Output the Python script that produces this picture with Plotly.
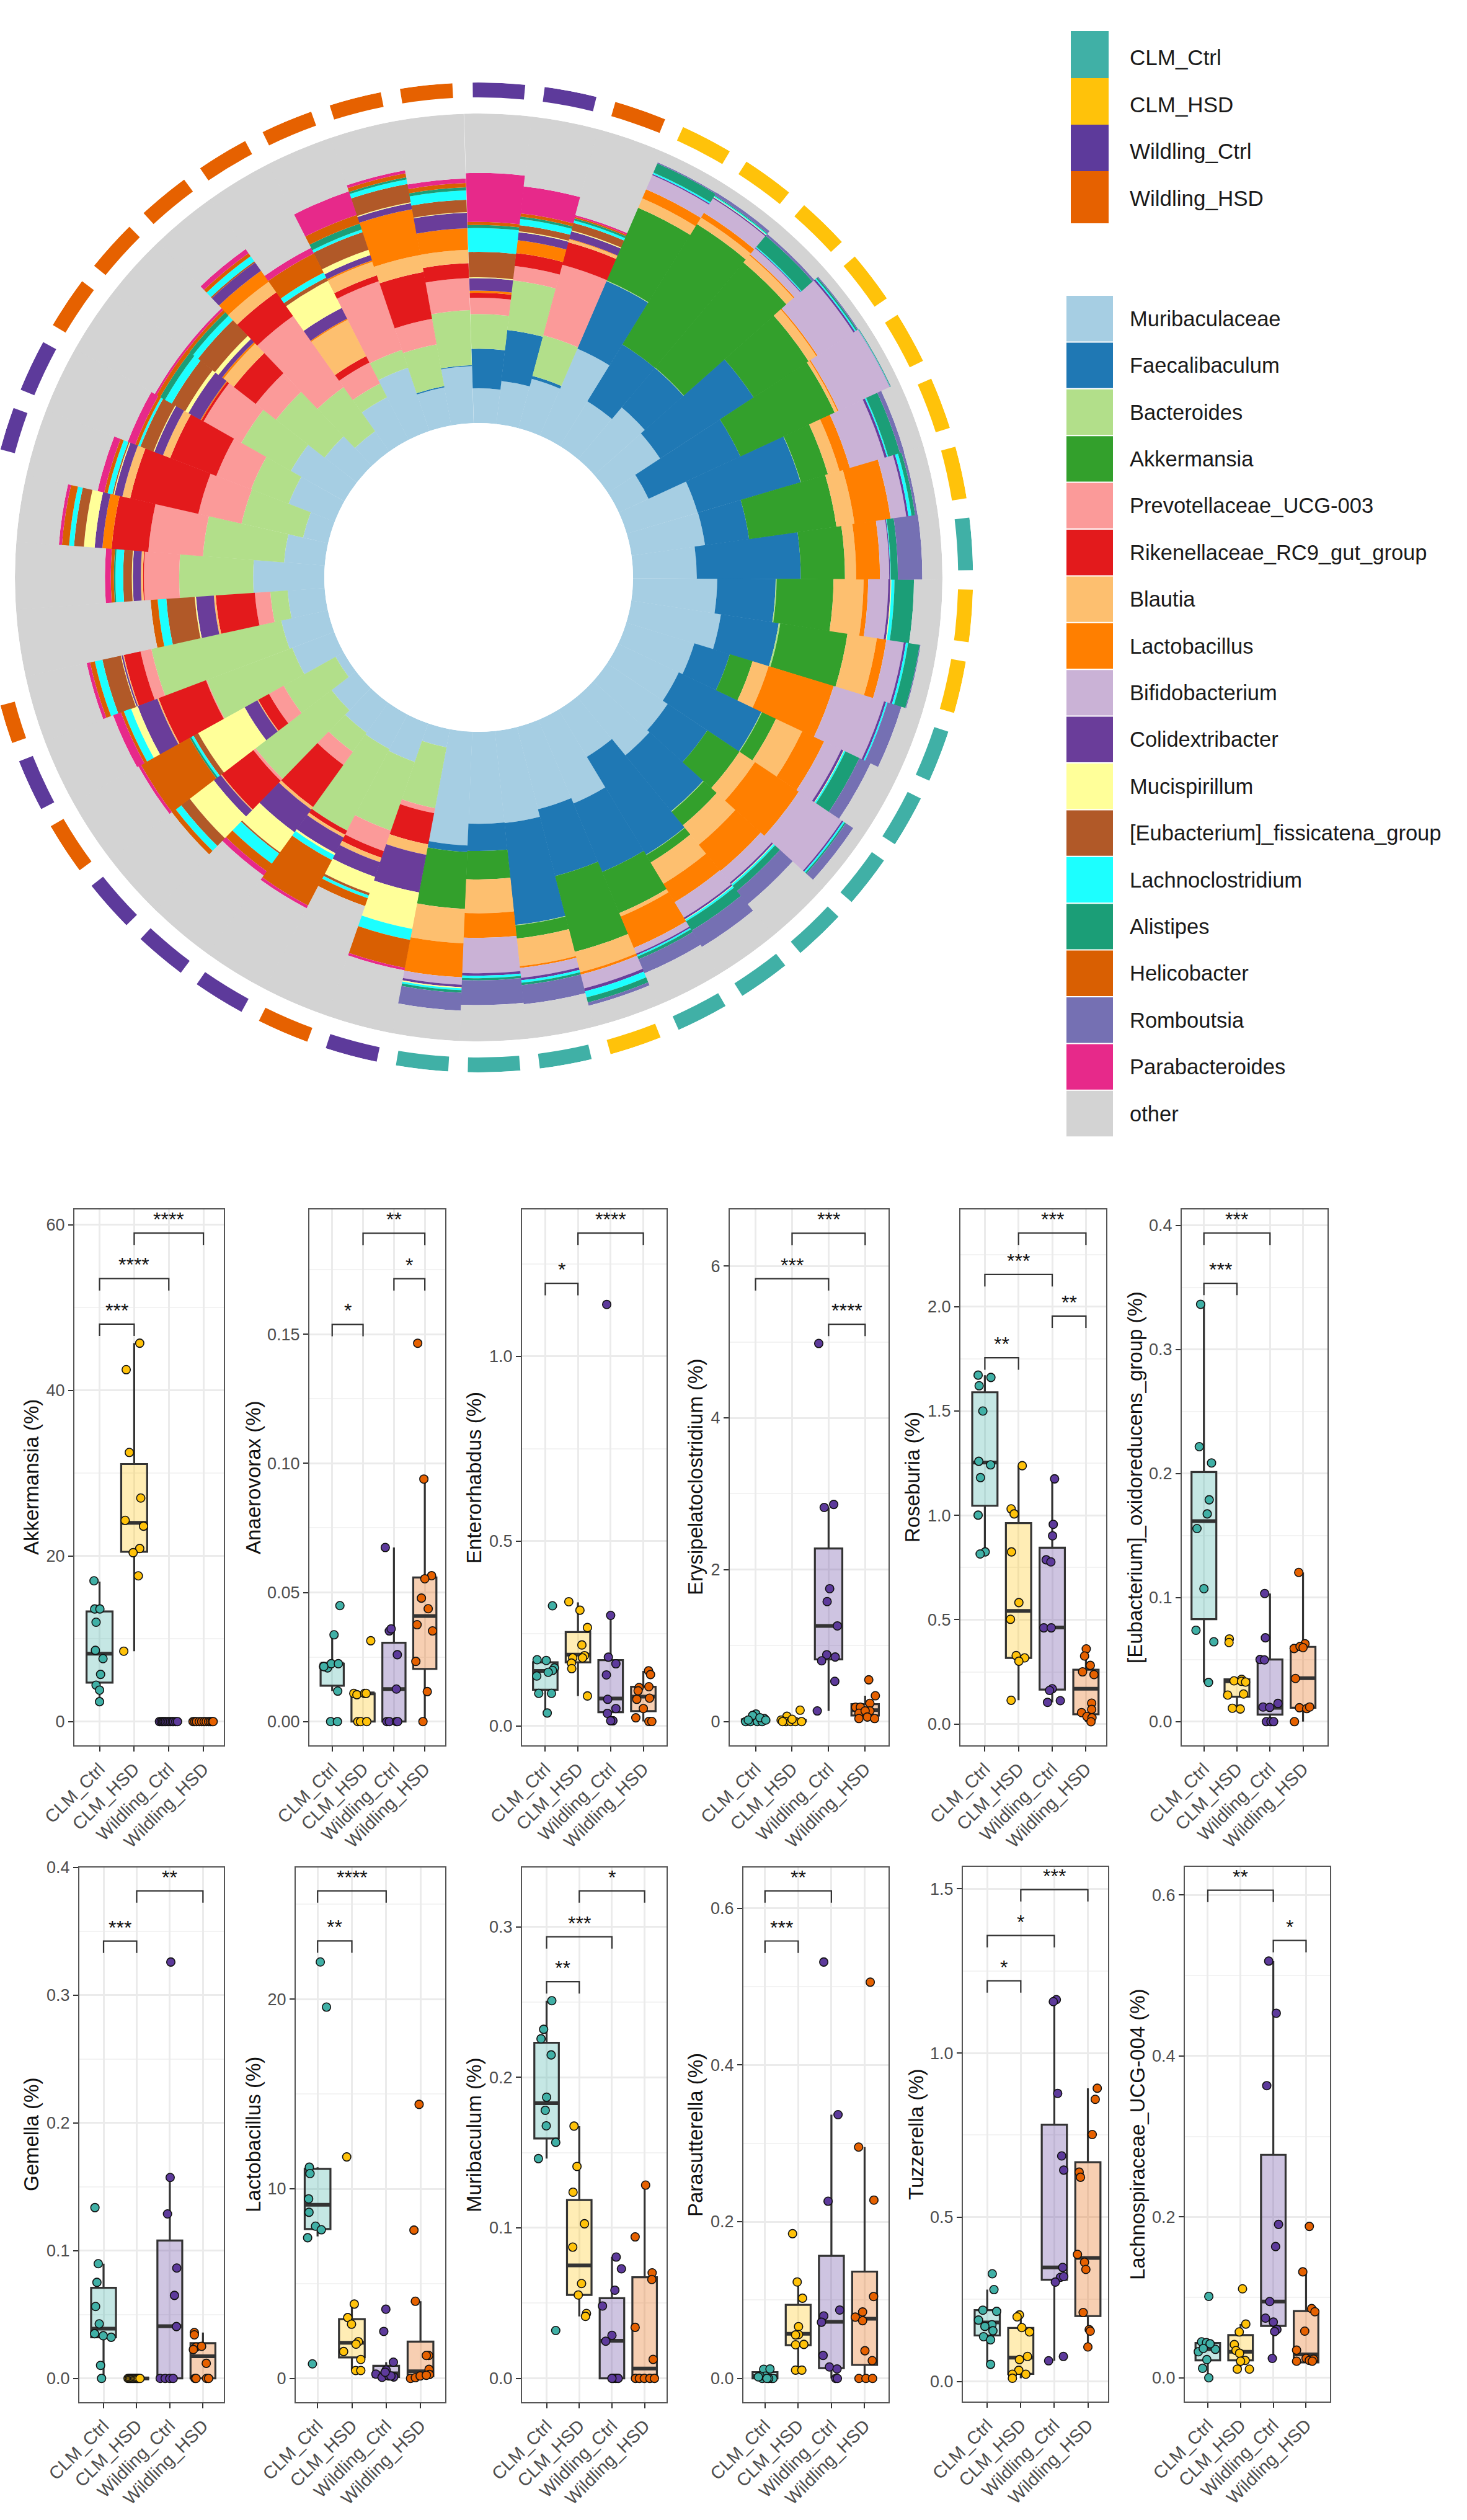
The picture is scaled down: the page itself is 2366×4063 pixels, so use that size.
import plotly.graph_objects as go

# ---------- circular stacked bars: one value per sample (43 samples, clockwise from the top) ----------
sample_group = [2,2,3,1,1,1,1,1,1,1,0,1,1,0,0,0,0,0,0,1,0,0,0,2,3,2,2,2,3,2,3,2,2,2,2,2,3,3,3,3,3,3,3]
Muribaculaceae = [11.2,14,16.5,30.6,17,21.9,20.2,10.6,23.9,24,20.6,27.2,29.3,23,21.7,23.6,24.6,17.8,29.3,27.4,29.9,29.7,36.8,6,13.2,12.6,12,10,3,14.5,15.4,12,23,13.2,8.3,16,19.9,13.2,8,15.4,21.6,12.5,18.4]
Faecalibaculum = [12.8,16.6,1,23.8,21.6,16.7,36.1,32.7,34.7,14.4,33.6,18.9,18.9,12,29.6,15.4,23.4,37,24,22.3,33.1,8.8,2.1,0,0,0,0,0,0,0,0,0,0,0,0,0,0,0,0,0,0,.4,.3]
Bacteroides = [11.2,16.1,13.6,.2,0,.1,0,0,.1,0,0,.3,.5,0,.2,0,.2,.1,0,0,.2,0,0,20,23.5,29.7,7.6,30.9,19.2,29.5,43,5.6,23.9,26.3,20.4,13,18.4,19.9,17.5,5,6.1,13.7,17.8]
Akkermansia = [0,0,0,25.6,45.7,44.4,21.3,33.6,9.1,28.5,14.3,18.4,22,7.7,5,12.5,5.7,2.8,14.4,25.3,4.2,9.2,18.4,0,0,0,0,0,0,0,0,0,0,0,0,0,0,0,0,0,0,0,0]
Prevotellaceae_UCG_003 = [5.3,4.7,23.6,0,0,0,0,0,0,0,0,0,0,0,0,0,0,0,0,0,0,0,0,1.6,7,0,5.2,.9,5.4,.3,3.6,5,11.4,17.7,14.3,12,14,8.3,28.2,7.6,23.4,8.4,10.4]
Rikenellaceae_RC9 = [1.6,4.2,7.5,0,0,0,0,0,0,0,0,0,0,0,0,0,0,0,0,0,0,0,0,10.3,2.3,1.5,16.8,13,4,16.4,5.5,12.7,.3,11.9,22.6,16,.8,9,9.4,2.3,2,15.4,4.8]
Blautia = [0,0,1,3.3,2.5,3,3,1,3.9,5.9,3.6,9.7,9.6,5.4,9.4,6,8.1,8,1.2,6.8,9,10.9,11.1,3.4,1.5,1,1,.3,.3,.4,.3,.6,.7,0,2.6,2.5,0,4.2,4.2,13.2,4.6,5.6,4.3]
Lactobacillus_share = [.7,4.2,.2,3.2,1.8,.4,.4,.4,3.5,11.8,7.7,1.5,3.1,22,7.8,17.1,11,7,11,.8,.6,8,11,0,0,0,0,0,0,0,0,0,0,3,0,0,.3,.6,4.3,.4,.5,15,7]
Bifidobacterium = [0,0,0,5,5.5,2.5,13.8,18.2,11.7,5.1,3,6.5,5.7,17,6.1,16.8,4.8,5.8,2,4.6,3.2,11.4,2.4,0,0,0,0,0,0,0,0,0,0,0,0,0,0,0,0,0,0,0,0]
Colidextribacter = [4,2.6,2.5,.4,.4,.3,.6,.1,.8,.7,.3,.7,.7,.7,.8,.5,.6,.6,.5,1,.8,.8,.8,12.4,5,5.7,9.1,2.8,4.7,6.8,.5,5.8,2.6,2.5,2.6,3,4.5,1.5,3.3,3.9,1.8,2,5]
Mucispirillum = [.3,.3,.3,0,.2,0,0,0,0,0,0,.3,0,0,.2,0,.2,.2,0,0,0,0,.4,12,5.5,.7,8,9.8,17.2,2.3,.2,.4,.3,3.5,.3,.3,1.2,1.4,0,9.8,1.8,.3,.2]
Eubacterium_fissicatena = [8.2,2,2.5,0,0,0,0,0,0,0,0,0,0,0,0,0,0,0,0,0,0,0,0,0,.8,0,.5,3.5,1.7,0,6.1,9.2,2.8,3.2,.4,4.5,5,7,.5,1.2,6,6,4]
Lachnoclostridium = [7.7,2,.8,.5,.3,.3,.4,.1,.4,1,.2,1,.7,.5,.5,.5,.6,.6,.5,2,.8,.8,.6,3.6,1,1.8,4,2.2,.8,2.5,2.5,2.8,2.5,1.6,1.6,.8,2.5,2,2,1.8,.9,1.5,3]
Alistipes = [1,.8,.7,3.2,.3,4.7,.5,.2,4,1.2,2.3,6.3,3.8,0,5,.5,2.2,3.5,1,1.7,.8,.7,.8,0,0,0,0,0,.6,0,0,0,.5,0,0,0,1.8,1.5,0,0,2,.7,1]
Helicobacter = [1,1,.5,0,0,0,0,0,0,0,0,0,0,0,0,0,0,0,0,0,0,0,0,9.2,2.7,16.6,3,1.6,18,1,1.6,2.3,1,2.3,1.1,1,1.3,1,1.2,7,3,1.3,1.4]
Romboutsia = [0,0,0,.4,1,.8,.4,.1,1.4,.8,7.9,0,.3,4.7,4,2.9,5.5,6.2,4.9,1.1,6.2,8,5.8,0,0,0,0,0,0,0,0,0,0,0,0,0,0,0,0,0,0,0,0]
Parabacteroides = [15.8,8.8,.6,0,0,0,0,0,0,0,0,0,0,0,0,0,0,0,0,0,0,0,0,.8,0,1,1.7,0,1,2.7,1.1,0,1.9,1,2.2,2.6,.7,.8,1.6,2,8,1,1.5]

genus_names = ["Muribaculaceae","Faecalibaculum","Bacteroides","Akkermansia","Prevotellaceae_UCG-003","Rikenellaceae_RC9_gut_group","Blautia","Lactobacillus","Bifidobacterium","Colidextribacter","Mucispirillum","[Eubacterium]_fissicatena_group","Lachnoclostridium","Alistipes","Helicobacter","Romboutsia","Parabacteroides","other"]
genus_colors = ["#A6CEE3","#1F78B4","#B2DF8A","#33A02C","#FB9A99","#E31A1C","#FDBF6F","#FF7F00","#CAB2D6","#6A3D9A","#FFFF99","#B15928","#1CFFFF","#1B9E77","#D95F02","#7570B3","#E7298A","#D3D3D3"]
genus_values = [Muribaculaceae,Faecalibaculum,Bacteroides,Akkermansia,Prevotellaceae_UCG_003,Rikenellaceae_RC9,Blautia,Lactobacillus_share,Bifidobacterium,Colidextribacter,Mucispirillum,Eubacterium_fissicatena,Lachnoclostridium,Alistipes,Helicobacter,Romboutsia,Parabacteroides]

groups = ["CLM_Ctrl","CLM_HSD","Wildling_Ctrl","Wildling_HSD"]
group_colors = ["#40B0A6","#FFC20A","#5D3A9B","#E66100"]
group_fills = ["rgba(64,176,166,0.30)","rgba(255,194,10,0.30)","rgba(93,58,155,0.30)","rgba(230,97,0,0.30)"]

# ---------- boxplot panels: VALUES per group, DX = jitter in category units, BOX = q1, median, q3, low, high ----------
AKK_Y = [[17.0,13.6,13.6,12.0,8.6,7.6,5.7,4.4,3.8,2.4],[45.7,42.5,32.5,27,24.3,23.6,20.9,20.4,17.6,8.5],[0,0,0,0,0,0,0,0,0,0,0,0],[0,0,0,0,0,0,0,0,0,0,0]]
AKK_DX = [[-.16,-.14,.01,-.1,-.12,.1,.03,-.1,0,0],[.16,-.23,-.14,.19,-.26,.27,.16,-.03,.12,-.3],[-.27,-.22,-.18,-.14,-.1,-.05,0,.05,.1,.14,.2,.25],[-.3,-.25,-.2,-.12,-.05,.02,.08,.15,.2,.25,.28]]
AKK_BOX = [[4.7,8.2,13.3,2.4,16.9],[20.5,24,31.1,8.5,45.7],[0,0,0,0,0],[0,0,0,0,0]]

ANA_Y = [[.0449,.0336,.0213,.0208,.0224,.0224,.0118,0,0,.0213],[.0313,.0109,.0104,.0109,.0109,0,0,0],[.0674,.0351,.0359,.0259,.0126,0,0,0,0],[.1465,.0939,.0565,.0553,.0478,.0437,.0375,.0351,.0233,.0116,0]]
ANA_DX = [[.25,.06,-.28,-.15,-.03,.2,.18,-.05,.17,-.27],[.25,-.3,-.2,.05,.1,-.17,-.08,.12],[-.28,-.15,-.09,.11,.08,-.23,-.15,.08,.12],[-.23,-.03,.22,0,-.11,.11,-.25,.25,-.29,.08,-.06]]
ANA_BOX = [[.0139,.0224,.0224,.0118,.0336],[0,.0109,.0109,0,.0109],[0,.0126,.0305,0,.0674],[.0204,.0409,.0558,0,.0939]]

ENT_Y = [[.325,.179,.177,.157,.15,.145,.135,.088,.088,.035],[.336,.313,.266,.219,.184,.19,.17,.184,.155,.081],[1.14,.299,.186,.168,.138,.072,.047,.034,.014,.014],[.149,.139,.104,.106,.095,.075,.072,.047,.022,.012,.012]]
ENT_DX = [[.22,-.25,.03,.28,.22,.09,-.26,.19,-.2,.06],[-.28,.06,.29,.12,-.16,.2,-.2,.14,-.19,.29],[-.12,0,-.07,.16,-.13,-.09,.16,-.1,.07,0],[.16,.22,-.13,.17,-.16,.19,-.2,0,-.23,.17,.26]]
ENT_BOX = [[.098,.149,.172,.035,.177],[.172,.193,.254,.081,.334],[.037,.074,.178,.014,.299],[.04,.079,.106,.012,.149]]

ERY_Y = [[0,.1,0,0,.04,.08,0,.02,.05,.02],[.15,.07,.02,0,0,0,0,0,.03],[4.98,2.86,2.82,1.75,1.58,1.26,.88,.85,.8,.53,.14],[.55,.34,.19,.24,.19,.11,.14,.14,.04,.06,.04]]
ERY_DX = [[-.27,.01,-.14,.05,.24,-.08,.18,-.2,.12,.28],[.22,-.14,-.3,-.17,-.04,.09,.26,-.26,0],[-.27,.14,-.12,.03,-.04,.24,-.05,.18,-.19,.17,-.31],[.1,.28,-.26,.13,-.13,-.17,.13,0,-.17,.06,.26]]
ERY_BOX = [[0,.01,.03,0,.08],[0,.005,.02,0,.07],[.82,1.26,2.28,.14,2.82],[.08,.15,.23,.04,.34]]

ROS_Y = [[1.672,1.661,1.621,1.5,1.259,1.242,1.181,1.001,.825,.815],[1.238,1.031,1.007,.825,.582,.502,.328,.317,.301,.114],[1.175,.957,.902,.787,.777,.461,.461,.169,.161,.112,.104],[.36,.326,.281,.25,.237,.1,.07,.055,.036,.03,.011]]
ROS_DX = [[-.2,.18,-.17,-.06,-.18,.17,-.13,-.2,.01,-.14],[.11,-.22,-.13,-.21,.01,-.24,-.07,.18,.01,-.22],[.07,.03,.01,-.18,-.04,-.25,-.03,0,-.08,.24,-.14],[.01,-.04,.13,-.1,.24,.17,.17,-.13,.03,.18,.15]]
ROS_BOX = [[1.046,1.253,1.59,.815,1.672],[.317,.542,.963,.114,1.238],[.165,.463,.845,.104,1.175],[.047,.169,.26,.011,.36]]

EUB_Y = [[.3365,.2217,.2086,.1789,.1675,.1557,.1072,.0737,.0644,.0316],[.0667,.0638,.0341,.0329,.0325,.0319,.0223,.0214,.0108,.0102],[.1033,.0676,.0501,.0498,.0118,.0115,.0147,0,0,0],[.1203,.0628,.059,.0606,.0597,.0348,.0112,.0105,.0118,0]]
EUB_DX = [[-.1,-.14,.23,.16,.1,-.21,0,-.24,.3,.14],[-.23,-.24,.14,-.09,.14,.26,.2,-.28,-.14,.1],[-.16,-.14,-.3,-.17,-.21,-.01,.24,-.11,.03,.11],[-.13,.06,-.27,-.09,0,-.23,-.11,.11,.2,-.26]]
EUB_BOX = [[.0826,.1617,.2013,.0316,.3365],[.0201,.0325,.0341,.0102,.0341],[.0057,.0112,.0501,0,.1033],[.0112,.0351,.0603,0,.1203]]

GEM_Y = [[.1337,.0898,.0752,.0563,.0427,.035,.0334,.0322,.0102,0],[0,0,0,0,0,0,0,0,0,0],[.326,.1573,.1288,.0864,.065,.0406,0,0,0,0],[.0359,.0341,.0245,.0251,.0226,.0118,0,0,0,0]]
GEM_DX = [[-.26,-.16,-.2,-.24,-.13,-.27,-.01,.23,-.09,-.06],[-.26,-.22,-.18,-.14,-.1,-.06,-.02,.02,.06,.1],[.03,.01,-.07,.21,.14,.2,-.29,-.14,0,.1],[-.26,-.26,-.21,-.04,-.29,.1,-.24,-.21,.11,.17]]
GEM_BOX = [[.0322,.039,.0709,0,.0898],[0,0,0,0,0],[0,.0409,.108,0,.1573],[0,.0173,.0276,0,.0359]]

LAC_Y = [[21.96,19.58,11.14,10.8,9.47,8.76,8.03,7.84,7.42,.77],[11.68,3.92,3.21,2.86,1.94,1.81,1.42,1,.42,.42],[3.65,2.48,.86,.44,.23,.06,.13,.08,.13,.33],[14.45,7.82,4.07,1.21,1.21,.48,.21,0,.04,.13,.17]]
LAC_DX = [[.08,.26,-.24,-.22,-.26,-.25,-.06,.11,-.29,-.15],[-.15,.07,-.12,-.01,.19,.12,-.24,.26,.11,.26],[-.01,-.07,.21,0,-.3,-.12,.08,.22,.14,-.03],[-.04,-.19,-.15,.24,.17,.25,.26,-.29,-.15,-.01,.17]]
LAC_BOX = [[7.88,9.16,11.05,7.49,11.14],[1.11,1.88,3.13,.42,3.92],[.08,.27,.67,.06,.86],[.13,.38,1.94,0,4.07]]

MUR_Y = [[.2509,.2319,.2256,.2149,.1868,.1781,.1678,.1568,.146,.0318],[.1676,.1408,.1237,.1027,.0872,.063,.0554,.0431,.0412],[.0806,.0728,.0586,.0481,.0286,.0247,0,0,0,0],[.1284,.094,.0701,.0657,.0339,.0126,0,0,0,0,0]]
MUR_DX = [[.16,-.09,-.17,.14,0,-.04,-.01,.28,-.25,.28],[-.16,-.07,-.19,.16,-.2,.07,-.03,.22,.19],[.13,.29,.09,-.29,0,-.19,.04,.12,.19,0],[.03,-.29,.23,.22,-.29,.26,-.28,-.16,-.01,.16,.3]]
MUR_BOX = [[.1594,.1828,.223,.146,.2509],[.0554,.0751,.1185,.0412,.1676],[0,.025,.0533,0,.0806],[0,.0066,.0672,0,.1284]]

PAR_Y = [[.0116,.0121,0,0,0,.003,.003,0,.002,0],[.1847,.1231,.1024,.0661,.056,.0555,.0434,.0429,.0106,.0106],[.5314,.3366,.2261,.0873,.0797,.0717,.0293,.0146,.0121,0,0],[.5057,.2952,.2276,.1045,.0782,.0848,.0737,.0353,.0227,0,0,0]]
PAR_DX = [[-.04,.15,-.08,.2,.24,.01,-.15,.11,-.2,.06],[-.17,-.03,.13,.01,.01,-.08,.17,-.08,-.08,.11],[-.23,.2,-.1,.25,-.23,-.3,-.25,-.06,.17,.13,.18],[.17,-.18,.28,.27,-.28,-.06,-.06,.01,.23,-.17,.04,.24]]
PAR_BOX = [[0,.003,.0081,0,.0121],[.0424,.057,.0939,.0106,.1231],[.0131,.0722,.1564,0,.3366],[.0172,.0762,.1363,0,.2952]]

TUZ_Y = [[.3277,.2795,.2169,.2133,.1867,.1723,.1675,.1542,.1361,.1265,.0518],[.2024,.1964,.1639,.1506,.0759,.0663,.0337,.0217,.0217,.0096],[1.1627,1.1566,.8771,.6867,.6434,.347,.3169,.3193,.3024,.0759,.0627],[.8928,.859,.7518,.6373,.6217,.3867,.3627,.341,.2096,.1578,.153,.1048]]
TUZ_DX = [[.15,.2,-.13,.28,-.26,.14,-.07,.17,-.11,.1,.1],[-.04,-.11,.03,.26,.2,-.04,-.06,.15,-.25,-.25],[.06,-.03,.1,.22,.28,.25,.18,.28,.03,.27,-.17],[.28,.22,.13,-.26,-.22,-.31,-.1,-.06,-.14,.04,.07,0]]
TUZ_BOX = [[.1398,.1795,.2169,.0518,.2795],[.0229,.0723,.1627,.0096,.2024],[.3096,.347,.7819,.0627,1.1566],[.1988,.3759,.6675,.1048,.8928]]

LCH_Y = [[.1012,.0447,.0437,.0354,.0324,.0226,.0118,0,.0423,.0364],[.1106,.0668,.057,.0413,.0339,.0305,.0216,.0206,.0108,.0108],[.5179,.4531,.3631,.1907,.1631,.0948,.0742,.0693,.06,.0575,.0241],[.1882,.1317,.086,.0821,.058,.0344,.0206,.0241,.0216,.0231,.0206]]
LCH_DX = [[.03,-.19,-.04,.23,-.29,-.03,-.16,.03,.07,-.14],[.06,.16,-.04,-.19,-.14,-.03,.14,0,-.1,.27],[-.14,.09,-.2,.16,.07,-.11,-.24,0,.11,.04,-.03],[.1,-.1,.17,.27,-.04,-.29,-.29,0,.1,.23,.19]]
LCH_BOX = [[.0216,.0354,.0432,0,.0447],[.0216,.0324,.0531,.0108,.0668],[.0644,.0948,.2771,.0241,.5179],[.0192,.029,.083,.0192,.1317]]

# title, values, jitter, box stats, y range, tick step, tick format, brackets (from, to, height, stars)
panels = [
 ("Akkermansia (%)",AKK_Y,AKK_DX,AKK_BOX,[-2.87,61.85],20,"d",[(1,2,48,"***"),(1,3,53.5,"****"),(2,4,59,"****")]),
 ("Anaerovorax (%)",ANA_Y,ANA_DX,ANA_BOX,[-.0092,.1983],.05,".2f",[(1,2,.1538,"*"),(3,4,.1715,"*"),(2,4,.1891,"**")]),
 ("Enterorhabdus (%)",ENT_Y,ENT_DX,ENT_BOX,[-.0525,1.397],.5,".1f",[(1,2,1.197,"*"),(2,4,1.333,"****")]),
 ("Erysipelatoclostridium (%)",ERY_Y,ERY_DX,ERY_BOX,[-.313,6.745],2,"d",[(3,4,5.233,"****"),(1,3,5.833,"***"),(2,4,6.432,"***")]),
 ("Roseburia (%)",ROS_Y,ROS_DX,ROS_BOX,[-.102,2.466],.5,".1f",[(1,2,1.755,"**"),(3,4,1.955,"**"),(1,3,2.154,"***"),(2,4,2.353,"***")]),
 ("[Eubacterium]_oxidoreducens_group (%)",EUB_Y,EUB_DX,EUB_BOX,[-.0191,.413],.1,".1f",[(1,2,.3534,"***"),(1,3,.394,"***")]),
 ("Gemella (%)",GEM_Y,GEM_DX,GEM_BOX,[-.0186,.4],.1,".1f",[(1,2,.3424,"***"),(2,4,.3817,"**")]),
 ("Lactobacillus (%)",LAC_Y,LAC_DX,LAC_BOX,[-1.25,26.94],10,"d",[(1,2,23.07,"**"),(1,3,25.71,"****")]),
 ("Muribaculum (%)",MUR_Y,MUR_DX,MUR_BOX,[-.0158,.3394],.1,".1f",[(1,2,.2635,"**"),(1,3,.2934,"***"),(2,4,.3239,"*")]),
 ("Parasutterella (%)",PAR_Y,PAR_DX,PAR_BOX,[-.0303,.652],.2,".1f",[(1,2,.5582,"***"),(1,3,.6222,"**")]),
 ("Tuzzerella (%)",TUZ_Y,TUZ_DX,TUZ_BOX,[-.0614,1.567],.5,".1f",[(1,2,1.22,"*"),(1,3,1.358,"*"),(2,4,1.498,"***")]),
 ("Lachnospiraceae_UCG-004 (%)",LCH_Y,LCH_DX,LCH_BOX,[-.0295,.635],.2,".1f",[(3,4,.5435,"*"),(1,3,.606,"**")]),
]

# ---------- layout geometry (pixels of the page) ----------
W, H = 2366, 4063
CX, CY, R_OUT, R_HOLE, R_GREY = 772, 931, 798, 249, 748
PCT_PX = 4.99
RING_BASE, RING_LEN = 105.2, 4.8
THETA_0, THETA_STEP, RING_WIDTH = 2.4, 8.37, 6.1
RING_SECTOR = [-165, 165]   # the ring runs off the left page edge, as in the reference
panel_px = [(120,361,1950,2814),(499,718,1950,2814),(842,1075,1950,2814),(1177,1433,1950,2814),(1549,1784,1950,2814),(1906,2141,1950,2814),
            (128,361,3011,3873),(477,718,3011,3873),(842,1075,3011,3873),(1199,1433,3011,3873),(1553,1787,3010,3872),(1911,2145,3010,3872)]
x_pad = [(.726,.589),(.738,.66),(.71,.71),(.705,.64),(.725,.6),(.67,.74),(.73,.63),(.636,.72),(.75,.67),(.65,.72),(.725,.6),(.7,.73)]
title_x = [50,408,764,1121,1471,1830,50,408,764,1121,1477,1834]

fx = lambda px: px / W
fy = lambda py: 1 - py / H

fig = go.Figure()
shapes, annotations = [], []

# ---------- polar stacked bars ----------
theta = [THETA_0 + THETA_STEP * i for i in range(len(sample_group))]
cum = [0.0] * len(theta)
for name, color, vals in zip(genus_names, genus_colors, genus_values):
    fig.add_trace(go.Barpolar(r=vals, theta=theta, base=list(cum), width=THETA_STEP + 0.05, name=name,
                              marker=dict(color=color, line=dict(width=0)), showlegend=False, subplot="polar"))
    cum = [c + v for c, v in zip(cum, vals)]
other = [100 - c for c in cum]
fig.add_trace(go.Barpolar(r=other, theta=theta, base=list(cum), width=THETA_STEP + 0.05, name="other",
                          marker=dict(color=genus_colors[-1], line=dict(width=0)), showlegend=False, subplot="polar"))
fig.add_trace(go.Barpolar(r=[RING_LEN] * len(theta), theta=theta, base=[RING_BASE] * len(theta), width=RING_WIDTH, name="group",
                          marker=dict(color=[group_colors[g] for g in sample_group], line=dict(width=0)), showlegend=False, subplot="polar2"))

fig.update_layout(
    polar=dict(
        domain=dict(x=[fx(CX - R_GREY), fx(CX + R_GREY)], y=[fy(CY + R_GREY), fy(CY - R_GREY)]),
        hole=R_HOLE / R_GREY, barmode="overlay", bgcolor="rgba(0,0,0,0)",
        radialaxis=dict(visible=False, range=[0, (R_GREY - R_HOLE) / PCT_PX]),
        angularaxis=dict(visible=False, rotation=90, direction="clockwise")),
    polar2=dict(
        domain=dict(x=[0, fx(CX + R_OUT)], y=[fy(CY + R_OUT), fy(CY - R_OUT)]),
        sector=RING_SECTOR,
        hole=R_HOLE / R_OUT, barmode="overlay", bgcolor="rgba(0,0,0,0)",
        radialaxis=dict(visible=False, range=[0, (R_OUT - R_HOLE) / PCT_PX]),
        angularaxis=dict(visible=False, rotation=90, direction="clockwise")))

# ---------- legends ----------
FONT = "Liberation Sans, Arial, sans-serif"
group_edges = [50, 126, 201, 276, 360]
group_text_y = [93, 168, 244, 319]
for i, (n, c) in enumerate(zip(groups, group_colors)):
    shapes.append(dict(type="rect", xref="paper", yref="paper", x0=fx(1727), x1=fx(1788), y0=fy(group_edges[i]), y1=fy(group_edges[i + 1]),
                       fillcolor=c, line=dict(width=0)))
    annotations.append(dict(text=n, xref="paper", yref="paper", x=fx(1820), y=fy(group_text_y[i]), xanchor="left", yanchor="middle",
                            showarrow=False, font=dict(family=FONT, size=35, color="#1a1a1a")))
LEG_TOP, LEG_STEP = 476, 75.4
for i, (n, c) in enumerate(zip(genus_names, genus_colors)):
    shapes.append(dict(type="rect", xref="paper", yref="paper", x0=fx(1720), x1=fx(1795), y0=fy(LEG_TOP + LEG_STEP * i + 1), y1=fy(LEG_TOP + LEG_STEP * (i + 1) - 1),
                       fillcolor=c, line=dict(width=0)))
    annotations.append(dict(text=n, xref="paper", yref="paper", x=fx(1820), y=fy(LEG_TOP + LEG_STEP * (i + .5)), xanchor="left", yanchor="middle",
                            showarrow=False, font=dict(family=FONT, size=34.5, color="#1a1a1a")))

# ---------- box panels ----------
BOX_W = .75
TIP = .0222
for p, (title, ys, dxs, boxes, yr, dtick, fmt, brackets) in enumerate(panels):
    n = p + 1
    xa, ya = f"x{n}", f"y{n}"
    l, r, t, b = panel_px[p]
    for k in range(4):
        q1, med, q3, lo, hi = boxes[k]
        fig.add_trace(go.Box(x=[k + 1], q1=[q1], median=[med], q3=[q3], lowerfence=[lo], upperfence=[hi], width=BOX_W,
                             boxpoints=False, whiskerwidth=0, fillcolor=group_fills[k], line=dict(color="#333333", width=3.2),
                             xaxis=xa, yaxis=ya, showlegend=False, name=groups[k]))
        fig.add_trace(go.Scatter(x=[k + 1 - BOX_W / 2, k + 1 + BOX_W / 2], y=[med, med], mode="lines", line=dict(color="#333333", width=6),
                                 xaxis=xa, yaxis=ya, showlegend=False, hoverinfo="skip"))
    for k in range(4):
        fig.add_trace(go.Scatter(x=[k + 1 + d for d in dxs[k]], y=ys[k], mode="markers", name=groups[k],
                                 marker=dict(size=13.5, color=group_colors[k], line=dict(color="#111111", width=1.6)),
                                 xaxis=xa, yaxis=ya, showlegend=False))
    tip = TIP * (yr[1] - yr[0])
    for a, c, h, stars in brackets:
        fig.add_trace(go.Scatter(x=[a, a, c, c], y=[h - tip, h, h, h - tip], mode="lines", line=dict(color="#333333", width=2.2),
                                 xaxis=xa, yaxis=ya, showlegend=False, hoverinfo="skip"))
        annotations.append(dict(text=stars, xref=xa, yref=ya, x=(a + c) / 2, y=h, yanchor="bottom", yshift=2, showarrow=False,
                                font=dict(family=FONT, size=32, color="#111111")))
    pad = x_pad[p]
    fig.update_layout(**{
        f"xaxis{n}": dict(domain=[fx(l), fx(r)], anchor=ya, automargin=False, range=[1 - pad[0], 4 + pad[1]], tickmode="array", tickvals=[1, 2, 3, 4], ticktext=groups,
                          tickangle=-45, tickfont=dict(family=FONT, size=29, color="#4D4D4D"), ticks="outside", ticklen=8, tickcolor="#333333", tickwidth=2,
                          showgrid=True, gridcolor="#EBEBEB", gridwidth=2.5, zeroline=False, showline=True, mirror=True, linecolor="#555555", linewidth=2),
        f"yaxis{n}": dict(domain=[fy(b), fy(t)], anchor=xa, automargin=False, range=yr, tick0=0, dtick=dtick, tickformat=fmt,
                          tickfont=dict(family=FONT, size=27, color="#4D4D4D"), ticks="outside", ticklen=8, tickcolor="#333333", tickwidth=2,
                          showgrid=True, gridcolor="#EBEBEB", gridwidth=2.5, zeroline=False, showline=True, mirror=True, linecolor="#555555", linewidth=2,
                          minor=dict(showgrid=True, gridcolor="#F3F3F3", gridwidth=1.5, tick0=0, dtick=dtick / 2, ticks="")),
    })
    annotations.append(dict(text=title, xref="paper", yref="paper", x=fx(title_x[p]), y=fy((t + b) / 2), textangle=-90, xanchor="center", yanchor="middle",
                            showarrow=False, font=dict(family=FONT, size=33, color="#111111")))

fig.update_layout(width=W, height=H, margin=dict(l=0, r=0, t=0, b=0, autoexpand=False), paper_bgcolor="white", plot_bgcolor="white",
                  boxmode="overlay", shapes=shapes, annotations=annotations, showlegend=False)

post = ("document.body.style.margin='0';document.documentElement.style.overflow='hidden';")
fig.write_html("out.html", post_script=post, config=dict(displayModeBar=False))
